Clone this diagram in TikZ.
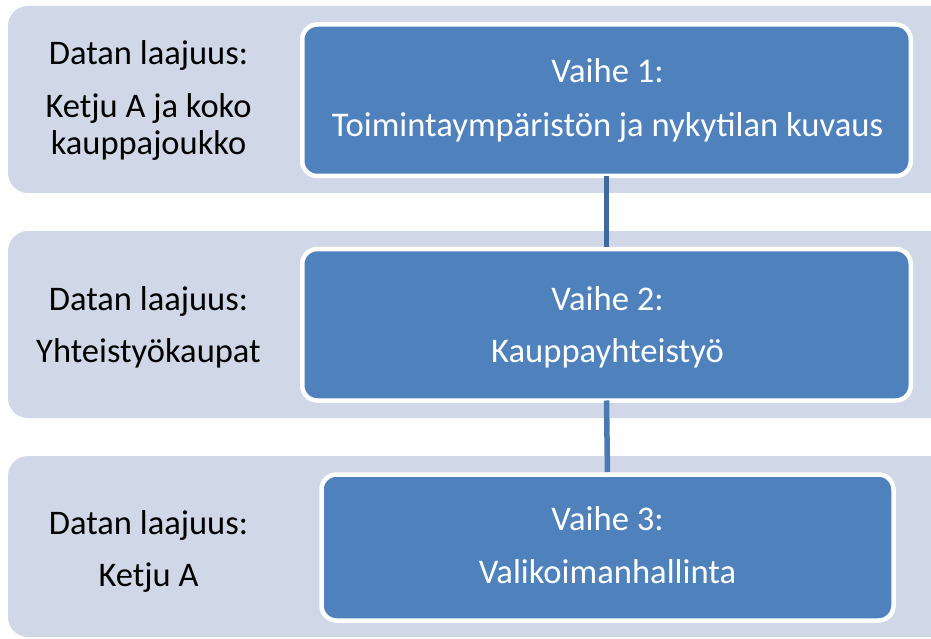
\documentclass[tikz,border=0pt]{standalone}
\usepackage{fontspec}
\setmainfont{Carlito}
\definecolor{bandgray}{HTML}{D0D8E8}
\definecolor{boxblue}{HTML}{4F81BD}
\definecolor{connA}{HTML}{3F6A9D}
\definecolor{connB}{HTML}{4A7AB4}
\tikzset{
  band/.style={fill=bandgray, rounded corners=20pt, inner sep=0pt, outer sep=0pt, anchor=north west},
  phasebox/.style={fill=boxblue, draw=white, line width=4.5pt, rounded corners=15pt, inner sep=0pt, outer sep=0pt},
  lefttext/.style={anchor=base, inner sep=0pt, text=black, font=\fontsize{34.5}{40}\selectfont},
  boxtext/.style={anchor=base, inner sep=0pt, text=white, font=\fontsize{34.6}{40}\selectfont},
  connline/.style={line width=5.5pt, shorten >=2.5pt}
}
\begin{document}
\begin{tikzpicture}[x=1pt, y=-1pt]
\useasboundingbox (0,0) rectangle (931,639);
\clip (0,0) rectangle (931,639);
% bands
\node[band, minimum width=960pt, minimum height=187pt] (band1) at (8,6) {};
\node[band, minimum width=960pt, minimum height=187pt] (band2) at (8,231) {};
\node[band, minimum width=960pt, minimum height=181pt] (band3) at (8,456) {};
% phase boxes
\node[phasebox, minimum width=608.5pt, minimum height=151.5pt] (box1) at (606.5,100.25) {};
\node[phasebox, minimum width=608.5pt, minimum height=151.5pt] (box2) at (606.5,324.75) {};
\node[phasebox, minimum width=572pt, minimum height=146pt] (box3) at (607.5,547.5) {};
% connectors
\draw[connline, draw=connA] (box1.south) -- (box2.north);
\draw[connline, draw=connB] (box2.south) -- (box3.north);
% left texts
\node[lefttext] (d1) at (148.5,65) {Datan laajuus:};
\node[lefttext] (s1a) at (148.5,118) {Ketju A ja koko};
\node[lefttext] (s1b) at (148.5,155) {kauppajoukko};
\node[lefttext] (d2) at (148.5,310) {Datan laajuus:};
\node[lefttext] (s2) at (148.5,362) {Yhteistyökaupat};
\node[lefttext] (d3) at (148.5,534) {Datan laajuus:};
\node[lefttext] (s3) at (148.5,586) {Ketju A};
% box texts
\node[boxtext] (v1) at (607.5,83) {Vaihe 1:};
\node[boxtext] (n1) at (607.5,137) {Toimintaympäristön ja nykytilan kuvaus};
\node[boxtext] (v2) at (607.5,310) {Vaihe 2:};
\node[boxtext] (n2) at (607.5,362) {Kauppayhteistyö};
\node[boxtext] (v3) at (607.5,530) {Vaihe 3:};
\node[boxtext] (n3) at (607.5,583) {Valikoimanhallinta};
\end{tikzpicture}
\end{document}
